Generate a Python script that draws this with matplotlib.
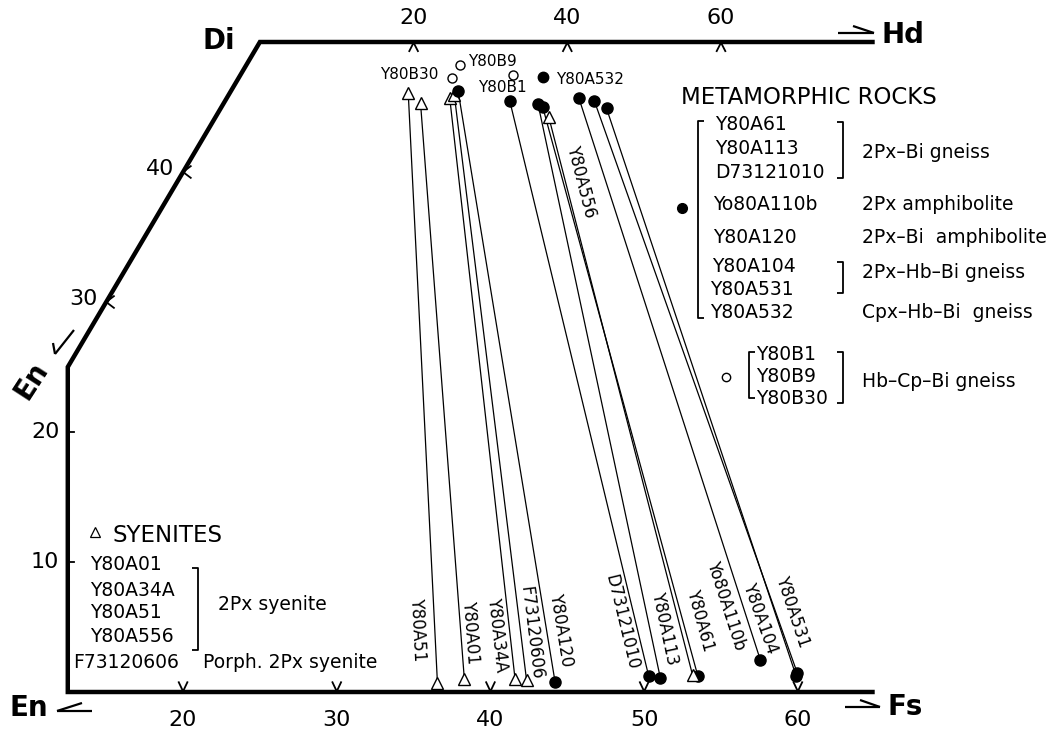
import matplotlib
matplotlib.use("Agg")
import matplotlib.pyplot as plt
import numpy as np

plt.rcParams['font.family'] = ['DejaVu Sans']

# ---------------- data (mol %) ----------------
tie_samples = ['Y80A51', 'Y80A01', 'Y80A34A', 'F73120606', 'Y80A120', 'D73121010',
               'Y80A113', 'Y80A61', 'Y80A556', 'Yo80A110b', 'Y80A104', 'Y80A531']
tie_group = ['syenite', 'syenite', 'syenite', 'syenite', 'meta', 'meta',
             'meta', 'meta', 'syenite', 'meta', 'meta', 'meta']
cpx_wo = [46.1, 45.3, 45.7, 45.9, 46.2, 45.5, 45.2, 45.0, 44.2, 45.7, 45.5, 44.9]
cpx_fs = [11.6, 12.8, 14.5, 14.7, 14.8, 18.5, 20.5, 20.9, 21.7, 22.9, 24.0, 25.1]
opx_wo = [0.7, 1.0, 1.0, 0.9, 0.8, 1.2, 1.1, 1.2, 1.3, 2.5, 1.5, 1.2]
opx_fs = [36.2, 37.8, 41.1, 41.9, 43.8, 49.7, 50.5, 52.9, 52.5, 56.3, 59.2, 59.3]

single_samples = ['Y80A532', 'Y80B1', 'Y80B9', 'Y80B30']
single_group = ['meta', 'gneiss', 'gneiss', 'gneiss']
single_wo = [47.3, 47.5, 48.2, 47.2]
single_fs = [19.8, 17.7, 13.9, 13.9]

bottom_ticks = [20, 30, 40, 50, 60]      # Fs along En-Fs join
top_ticks = [20, 40, 60]                 # Hd % along Di-Hd join
left_ticks = [10, 20, 30, 40]            # Wo


def qx(wo, fs):
    """horizontal position in the pyroxene quadrilateral"""
    return np.asarray(fs, float) + np.asarray(wo, float) / 2.0


# ---------------- figure ----------------
W, H = 1055, 729
fig = plt.figure(figsize=(W / 100, H / 100), dpi=100)
ax = fig.add_axes([0, 0, 1, 1])
X0, X1 = 8.09, 8.09 + W / 15.37
Y1 = 692 / 13.0
Y0 = Y1 - H / 13.0
ax.set_xlim(X0, X1)
ax.set_ylim(Y0, Y1)
ax.axis('off')


def P(xp, yp):
    return X0 + xp / 15.37, Y1 - yp / 13.0


K = 'black'
# frame
fx = [65, 12.5, 12.5, 25, 65]
fy = [0, 0, 25, 50, 50]
ax.plot(fx, fy, color=K, lw=3.2, solid_joinstyle='miter', solid_capstyle='butt', zorder=2)

# ticks
for t in bottom_ticks:
    ax.plot([t - 0.28, t, t + 0.28], [0.75, 0.05, 0.75], color=K, lw=1.3)
for t in top_ticks:
    xt = 25 + t / 2
    ax.plot([xt - 0.28, xt, xt + 0.28], [49.3, 49.95, 49.3], color=K, lw=1.3)
for t in left_ticks:
    if t <= 25:
        ax.plot([12.5, 12.9], [t, t], color=K, lw=1.3)
    else:
        xs = t / 2
        ax.plot([xs + 0.5, xs, xs + 0.5], [t + 0.45, t, t - 0.45], color=K, lw=1.3)

tfs = 16
for t in bottom_ticks:
    ax.text(t, -2.15, str(t), ha='center', va='center', fontsize=tfs)
for t in top_ticks:
    ax.text(25 + t / 2, 51.85, str(t), ha='center', va='center', fontsize=tfs)
for t in left_ticks:
    if t <= 25:
        ax.text(12.5 - 0.55, t, str(t), ha='right', va='center', fontsize=tfs)
    else:
        ax.text(t / 2 - 0.55, t + 0.2, str(t), ha='right', va='center', fontsize=tfs)

# corner labels and arrows
big = 20
ax.text(*P(219, 41), 'Di', ha='center', va='center', fontsize=big, fontweight='bold')
ax.text(*P(903, 35), 'Hd', ha='center', va='center', fontsize=big, fontweight='bold')
ax.text(*P(29, 708), 'En', ha='center', va='center', fontsize=big, fontweight='bold')
ax.text(*P(905, 707), 'Fs', ha='center', va='center', fontsize=big, fontweight='bold')
ax.text(*P(31, 380), 'En', ha='center', va='center', fontsize=big, fontweight='bold',
        rotation=57, rotation_mode='anchor')


def seg(pts, lw=1.6):
    xs, ys = zip(*[P(*p) for p in pts])
    ax.plot(xs, ys, color=K, lw=lw, solid_capstyle='butt')


seg([(838, 33), (874, 33)])
seg([(853, 26), (874, 33)])
seg([(845, 707), (880, 707)])
seg([(860, 700), (880, 707)])
seg([(92, 711), (57, 711)])
seg([(57, 711), (82, 703)])
seg([(74, 330), (55, 354)])
seg([(55, 354), (53, 343)])

# ---------------- tie lines and points ----------------
xc = qx(cpx_wo, cpx_fs)
xo = qx(opx_wo, opx_fs)
for i in range(len(tie_samples)):
    ax.plot([xc[i], xo[i]], [cpx_wo[i], opx_wo[i]], color=K, lw=0.9, zorder=3)
    if tie_group[i] == 'syenite':
        ax.plot([xc[i], xo[i]], [cpx_wo[i], opx_wo[i]], ls='none', marker='^',
                ms=9, mfc='white', mec=K, mew=1.0, zorder=5)
    else:
        ax.plot([xc[i], xo[i]], [cpx_wo[i], opx_wo[i]], ls='none', marker='o',
                ms=8, mfc=K, mec=K, zorder=5)

xs_single = qx(single_wo, single_fs)
for i in range(len(single_samples)):
    if single_group[i] == 'meta':
        ax.plot(xs_single[i], single_wo[i], marker='o', ms=7.5, mfc=K, mec=K, zorder=5)
    else:
        ax.plot(xs_single[i], single_wo[i], marker='o', ms=6.5, mfc='white', mec=K,
                mew=1.0, zorder=5)

# labels near the upper points
sfs = 11
ax.text(*P(409, 75), 'Y80B30', ha='center', va='center', fontsize=sfs)
ax.text(*P(492, 61), 'Y80B9', ha='center', va='center', fontsize=sfs)
ax.text(*P(502, 88), 'Y80B1', ha='center', va='center', fontsize=sfs)
ax.text(*P(590, 80), 'Y80A532', ha='center', va='center', fontsize=sfs)

# rotated labels along tie-lines
label_pos = {
    'Y80A51': (418, 630), 'Y80A01': (470, 632), 'Y80A34A': (497, 635),
    'F73120606': (531, 633), 'Y80A120': (561, 630), 'D73121010': (622, 622),
    'Y80A113': (665, 628), 'Y80A61': (700, 620), 'Yo80A110b': (726, 606),
    'Y80A104': (760, 618), 'Y80A531': (793, 612), 'Y80A556': (581, 182),
}
fig.canvas.draw()
for i, name in enumerate(tie_samples):
    p1 = ax.transData.transform((xc[i], cpx_wo[i]))
    p2 = ax.transData.transform((xo[i], opx_wo[i]))
    ang = np.degrees(np.arctan2(p2[1] - p1[1], p2[0] - p1[0]))
    ax.text(*P(*label_pos[name]), name, ha='center', va='center', fontsize=12,
            rotation=ang, rotation_mode='anchor')

# ---------------- legends ----------------
lfs = 13.5
hfs = 16.5
ax.text(*P(681, 97), 'METAMORPHIC ROCKS', ha='left', va='center', fontsize=hfs)
meta_names = ['Y80A61', 'Y80A113', 'D73121010', 'Yo80A110b', 'Y80A120',
              'Y80A104', 'Y80A531', 'Y80A532']
meta_y = [125, 148, 172, 205, 238, 267, 290, 313]
meta_x = [715, 715, 715, 713, 713, 712, 710, 710]
for n, x, y in zip(meta_names, meta_x, meta_y):
    ax.text(*P(x, y), n, ha='left', va='center', fontsize=lfs)
for txt, y in [('2Px\u2013Bi gneiss', 152), ('2Px amphibolite', 205),
               ('2Px\u2013Bi  amphibolite', 238), ('2Px\u2013Hb\u2013Bi gneiss', 273),
               ('Cpx\u2013Hb\u2013Bi  gneiss', 313)]:
    ax.text(*P(862, y), txt, ha='left', va='center', fontsize=lfs)

seg([(704, 121), (698, 121), (698, 318), (704, 318)], lw=1.3)
seg([(837, 122), (843, 122), (843, 178), (837, 178)], lw=1.3)
seg([(837, 262), (843, 262), (843, 293), (837, 293)], lw=1.3)
ax.plot(*P(682, 208), marker='o', ms=7, color=K)

for n, y in [('Y80B1', 355), ('Y80B9', 377), ('Y80B30', 398)]:
    ax.text(*P(756, y), n, ha='left', va='center', fontsize=lfs)
ax.text(*P(862, 382), 'Hb\u2013Cp\u2013Bi gneiss', ha='left', va='center', fontsize=lfs)
seg([(755, 352), (749, 352), (749, 398), (755, 398)], lw=1.3)
seg([(837, 352), (843, 352), (843, 403), (837, 403)], lw=1.3)
ax.plot(*P(726, 377), marker='o', ms=6, mfc='white', mec=K, mew=1.0)

# syenites
ax.plot(*P(95, 532), marker='^', ms=6.5, mfc='white', mec=K, mew=0.9)
ax.text(*P(113, 535), 'SYENITES', ha='left', va='center', fontsize=hfs)
for n, y in [('Y80A01', 565), ('Y80A34A', 590), ('Y80A51', 613), ('Y80A556', 637)]:
    ax.text(*P(90, y), n, ha='left', va='center', fontsize=lfs)
seg([(192, 568), (198, 568), (198, 650), (192, 650)], lw=1.3)
ax.text(*P(218, 605), '2Px syenite', ha='left', va='center', fontsize=lfs)
ax.text(*P(73, 663), 'F73120606', ha='left', va='center', fontsize=lfs)
ax.text(*P(203, 663), 'Porph. 2Px syenite', ha='left', va='center', fontsize=lfs)

fig.savefig('out.png', dpi=100)
